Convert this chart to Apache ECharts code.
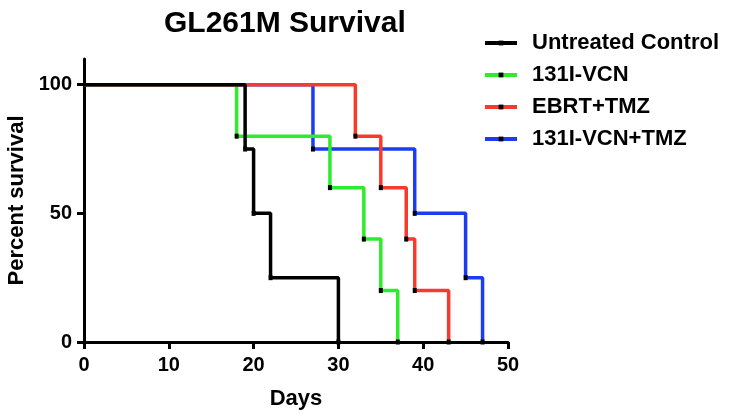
<!DOCTYPE html>
<html>
<head>
<meta charset="utf-8">
<script src="https://cdn.jsdelivr.net/npm/echarts@6/dist/echarts.min.js"></script>
<style>html,body{margin:0;padding:0;background:#fff;}#c{width:732px;height:416px;}</style>
</head>
<body>
<div id="c"></div>
<script>
const seriesNames = ['Untreated Control', '131I-VCN', 'EBRT+TMZ', '131I-VCN+TMZ'];
const controlDays = [0, 19, 20, 22, 30];
const controlPct = [100, 75, 50, 25, 0];
const vcnDays = [0, 18, 29, 33, 35, 37];
const vcnPct = [100, 80, 60, 40, 20, 0];
const ebrtDays = [0, 32, 35, 38, 39, 43];
const ebrtPct = [100, 80, 60, 40, 20, 0];
const vcnTmzDays = [0, 27, 39, 45, 47];
const vcnTmzPct = [100, 75, 50, 25, 0];
const xTicks = [0, 10, 20, 30, 40, 50];
const yTicks = [0, 50, 100];
const colors = ['#000000', '#2cec2c', '#f63a2c', '#1c3cf2'];

const FONT = '"Liberation Sans", Arial, sans-serif';

function makeData(days, pct) {
  return days.map((d, i) => i === 0 ? { value: [d, pct[i]], symbol: 'none' } : [d, pct[i]]);
}

function makeSeries(idx, days, pct) {
  return {
    name: seriesNames[idx],
    type: 'line',
    step: 'end',
    data: makeData(days, pct),
    symbol: 'rect',
    symbolSize: [4, 5],
    showSymbol: true,
    itemStyle: { color: '#000' },
    lineStyle: { color: colors[idx], width: 3.5 },
    emphasis: { disabled: true },
    silent: true
  };
}

const chart = echarts.init(document.getElementById('c'), null, { renderer: 'canvas' });
chart.setOption({
  animation: false,
  backgroundColor: '#fff',
  title: {
    text: 'GL261M Survival',
    left: 159,
    top: 4,
    textStyle: { fontFamily: FONT, fontWeight: 'bold', fontSize: 30, color: '#000' }
  },
  legend: {
    data: seriesNames,
    orient: 'vertical',
    left: 478,
    top: 27,
    itemWidth: 32,
    itemHeight: 6,
    itemGap: 10,
    selectedMode: false,
    lineStyle: { width: 4 },
    textStyle: { fontFamily: FONT, fontWeight: 'bold', fontSize: 22, color: '#000', padding: [0, 0, 0, 10] }
  },
  grid: { left: 84, right: 224, top: 59, bottom: 74, containLabel: false, outerBoundsMode: 'none' },
  xAxis: {
    type: 'value',
    min: 0,
    max: 50,
    interval: 10,
    name: 'Days',
    nameLocation: 'middle',
    nameGap: 46,
    nameTextStyle: { fontFamily: FONT, fontWeight: 'bold', fontSize: 22, color: '#000' },
    axisLine: { show: true, onZero: false, lineStyle: { color: '#000', width: 3 } },
    axisTick: { show: true, length: 7, lineStyle: { color: '#000', width: 3 }, customValues: xTicks },
    axisLabel: { fontFamily: FONT, fontWeight: 'bold', fontSize: 20, color: '#000', margin: 13, customValues: xTicks },
    splitLine: { show: false }
  },
  yAxis: {
    type: 'value',
    min: 0,
    max: 110,
    name: 'Percent survival',
    nameLocation: 'middle',
    nameGap: 55,
    nameTextStyle: { fontFamily: FONT, fontWeight: 'bold', fontSize: 22, color: '#000' },
    axisLine: { show: true, onZero: false, lineStyle: { color: '#000', width: 3 } },
    axisTick: { show: true, length: 7, lineStyle: { color: '#000', width: 3 }, customValues: yTicks },
    axisLabel: { fontFamily: FONT, fontWeight: 'bold', fontSize: 20, color: '#000', margin: 12, customValues: yTicks },
    splitLine: { show: false }
  },
  series: [
    makeSeries(3, vcnTmzDays, vcnTmzPct),
    makeSeries(1, vcnDays, vcnPct),
    makeSeries(2, ebrtDays, ebrtPct),
    makeSeries(0, controlDays, controlPct)
  ]
});
</script>
</body>
</html>
